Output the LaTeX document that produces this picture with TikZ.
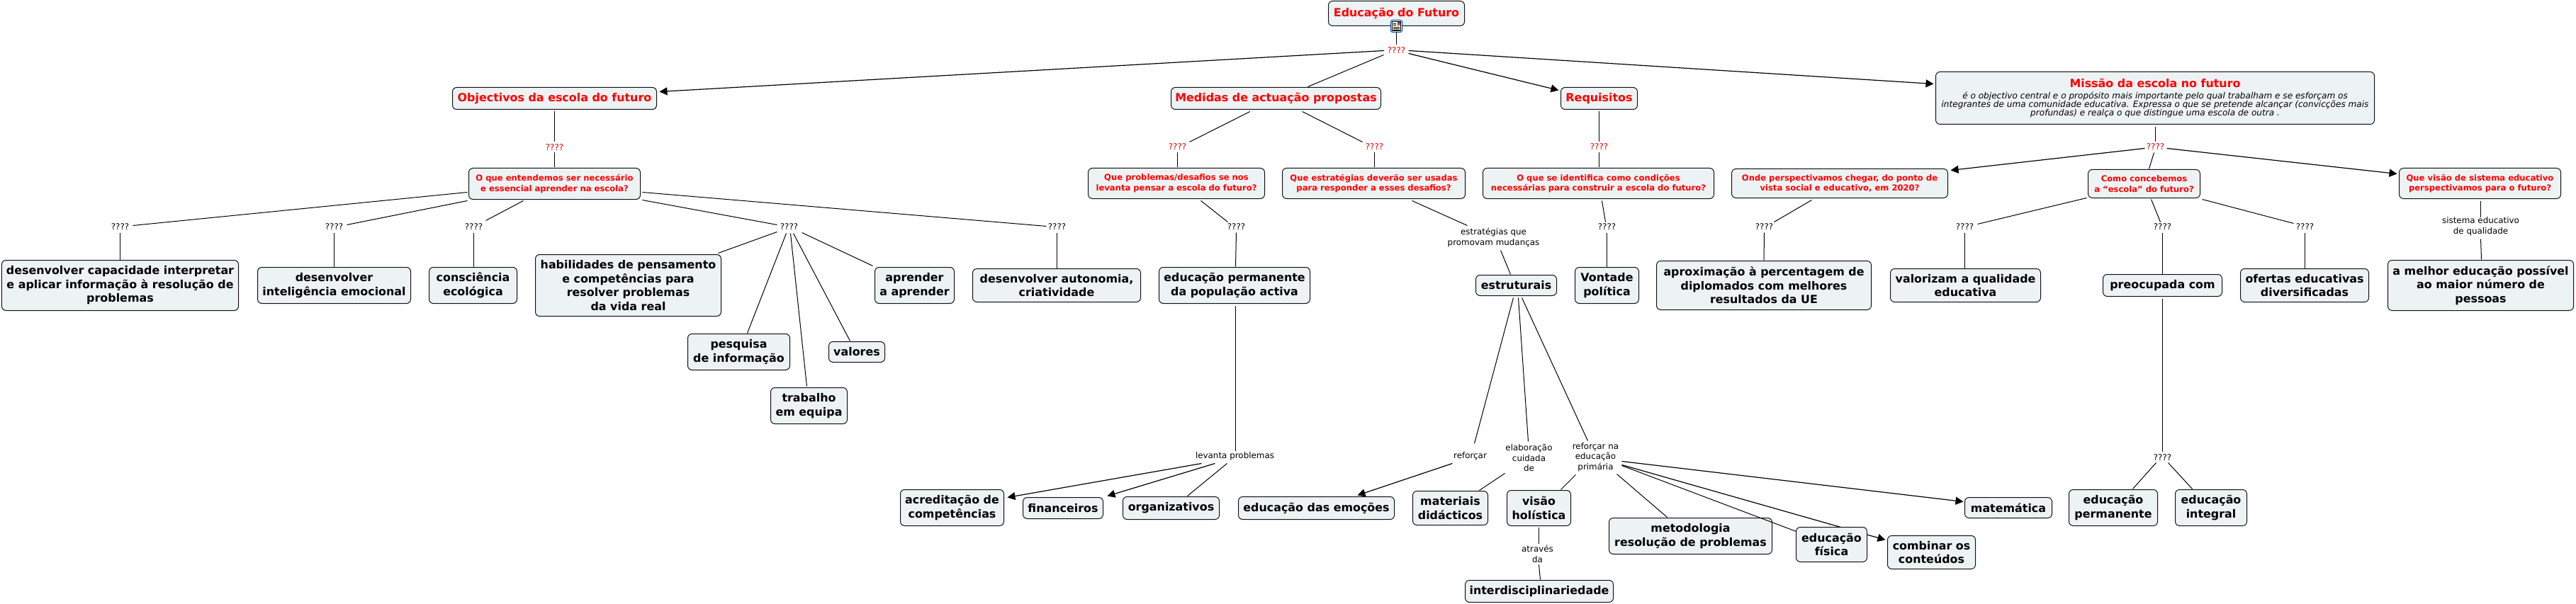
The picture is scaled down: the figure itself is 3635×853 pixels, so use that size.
\documentclass[tikz,border=0pt]{standalone}
\usepackage{fontspec}
\setmainfont{DejaVu Sans}
\usetikzlibrary{arrows.meta,backgrounds}
\definecolor{boxfill}{HTML}{EDF3F5}
\definecolor{boxline}{HTML}{101010}
\newcommand{\fA}{\fontsize{15.9}{19.5}\selectfont\bfseries}
\newcommand{\fT}{\fontsize{15.9}{19.5}\selectfont\bfseries}
\newcommand{\fQ}{\fontsize{11.6}{14.6}\selectfont\bfseries}
\newcommand{\fL}{\fontsize{11.9}{14.6}\selectfont}
\newcommand{\fI}{\fontsize{12.1}{14.6}\selectfont\mdseries\itshape\color{black}}
\tikzset{
  base/.style={draw=boxline,line width=1pt,fill=boxfill,rounded corners=6pt,inner sep=0pt,align=center},
  concept/.style={base,font=\fA,text=black},
  titlebox/.style={base,font=\fT,text=red},
  question/.style={base,font=\fQ,text=red},
  lab/.style={inner sep=0pt,align=center,font=\fL,text=black},
  redlab/.style={lab,text=red!85!black},
  link/.style={draw=black,line width=1pt},
  arrowlink/.style={link,line width=1.2pt,-{Triangle[length=11pt,width=11pt]}},
  dim/.style 2 args={minimum width=#1pt,minimum height=#2pt}
}
\begin{document}
\begin{tikzpicture}[x=1pt,y=-1pt]
\useasboundingbox (-0.5,-0.5) rectangle (3634.5,852.5);
% titles and questions
\node[titlebox,dim={192}{35}] (root) at (1970,18.5) {\raisebox{3pt}{Educação do Futuro}};
\node[titlebox,dim={288}{31}] (obj) at (782,138.5) {Objectivos da escola do futuro};
\node[titlebox,dim={296}{31}] (med) at (1800,138.5) {Medidas de actuação propostas};
\node[titlebox,dim={108}{31}] (req) at (2256,138.5) {Requisitos};
\node[base,dim={619}{74},text=red] (mis) at (3040.5,138) {\fT Missão da escola no futuro\\[3.5pt]\fI é o objectivo central e o propósito mais importante pelo qual trabalham e se esforçam os\\ \fI integrantes de uma comunidade educativa. Expressa o que se pretende alcançar (convicções mais\\ \fI profundas) e realça o que distingue uma escola de outra .};
\node[question,dim={242}{44}] (ent) at (782,259) {O que entendemos ser necessário\\ e essencial aprender na escola?};
\node[question,dim={249}{43}] (qp) at (1659.5,258.5) {Que problemas/desafios se nos\\levanta pensar a escola do futuro?};
\node[question,dim={258}{43}] (qe) at (1938,258.5) {Que estratégias deverão ser usadas\\para responder a esses desafios?};
\node[question,dim={326}{43}] (qi) at (2255,258.5) {O que se identifica como condições\\necessárias para construir a escola do futuro?};
\node[question,dim={305}{41}] (ond) at (2595.5,258.5) {Onde perspectivamos chegar, do ponto de\\vista social e educativo, em 2020?};
\node[question,dim={158}{40}] (com) at (3025,259) {Como concebemos\\a “escola” do futuro?};
\node[question,dim={228}{43}] (qv) at (3499,258.5) {Que visão de sistema educativo\\perspectivamos para o futuro?};
% concepts
\node[concept,dim={334}{71}] (dc) at (169,402.5) {desenvolver capacidade interpretar\\e aplicar informação à resolução de\\problemas};
\node[concept,dim={216}{51}] (di) at (471,402.5) {desenvolver\\inteligência emocional};
\node[concept,dim={124}{51}] (cons) at (667,402.5) {consciência\\ecológica};
\node[concept,dim={262}{87}] (hab) at (886,402.5) {habilidades de pensamento\\e competências para\\resolver problemas\\da vida real};
\node[concept,dim={144}{51}] (pes) at (1042,496.5) {pesquisa\\de informação};
\node[concept,dim={79}{29}] (val) at (1208.5,496.5) {valores};
\node[concept,dim={108}{51}] (tra) at (1141,572.5) {trabalho\\em equipa};
\node[concept,dim={112}{51}] (apr) at (1290,402.5) {aprender\\a aprender};
\node[concept,dim={237}{47}] (aut) at (1490.5,402.5) {desenvolver autonomia,\\criatividade};
\node[concept,dim={213}{51}] (epa) at (1741.5,402.5) {educação permanente\\da população activa};
\node[concept,dim={114}{29}] (est) at (2139,402.5) {estruturais};
\node[concept,dim={90}{51}] (von) at (2267,402.5) {Vontade\\política};
\node[concept,dim={303}{69}] (apx) at (2488.5,402.5) {aproximação à percentagem de\\diplomados com melhores\\resultados da UE};
\node[concept,dim={212}{47}] (vq) at (2773,402.5) {valorizam a qualidade\\educativa};
\node[concept,dim={168}{31}] (pre) at (3051,402.5) {preocupada com};
\node[concept,dim={181}{47}] (ofe) at (3251.5,402.5) {ofertas educativas\\diversificadas};
\node[concept,dim={262}{71}] (mel) at (3500,402.5) {a melhor educação possível\\ao maior número de\\pessoas};
\node[concept,dim={146}{51}] (acr) at (1343,716.5) {acreditação de\\competências};
\node[concept,dim={113}{30}] (fin) at (1499.5,717) {financeiros};
\node[concept,dim={136}{32}] (org) at (1652,717) {organizativos};
\node[concept,dim={220}{32}] (emo) at (1857,717) {educação das emoções};
\node[concept,dim={106}{48}] (mat) at (2046,717) {materiais\\didácticos};
\node[concept,dim={90}{50}] (vis) at (2171,717) {visão\\holística};
\node[concept,dim={230}{51}] (met) at (2385,756.5) {metodologia\\resolução de problemas};
\node[concept,dim={100}{49}] (fis) at (2584,768.5) {educação\\física};
\node[concept,dim={124}{47}] (cmb) at (2725,779.5) {combinar os\\conteúdos};
\node[concept,dim={123}{29}] (mtm) at (2833.5,716.5) {matemática};
\node[concept,dim={209}{31}] (int) at (2171.5,834.5) {interdisciplinariedade};
\node[concept,dim={125}{51}] (epe) at (2981.5,716.5) {educação\\permanente};
\node[concept,dim={101}{51}] (ein) at (3119.5,716.5) {educação\\integral};
% linking phrases
\node[redlab] (l0) at (1970,70.5) {????};
\node[redlab] (l1) at (782,207.5) {????};
\node[redlab] (l2) at (1661,207) {????};
\node[redlab] (l3) at (1939,207) {????};
\node[redlab] (l4) at (2256,207) {????};
\node[redlab] (l5) at (3041,207) {????};
\node[lab] (k1) at (169,320) {????};
\node[lab] (k2) at (471,320) {????};
\node[lab] (k3) at (668,320) {????};
\node[lab] (k4) at (1113,320) {????};
\node[lab] (k5) at (1491,320) {????};
\node[lab] (k6) at (1744,320) {????};
\node[lab] (k7) at (2267,320) {????};
\node[lab] (k8) at (2489,320) {????};
\node[lab] (k9) at (2772,320) {????};
\node[lab] (k10) at (3051,320) {????};
\node[lab] (k11) at (3252,320) {????};
\node[lab] (k12) at (3051,646) {????};
\node[lab] (les) at (2107,335) {estratégias que\\promovam mudanças};
\node[lab] (lsis) at (3500,319) {sistema educativo\\de qualidade};
\node[lab] (llev) at (1742,644) {levanta problemas};
\node[lab] (lref) at (2074,644) {reforçar};
\node[lab] (lela) at (2157,646) {elaboração\\cuidada\\de};
\node[lab] (lrna) at (2251,645) {reforçar na\\educação\\primária};
\node[lab] (latr) at (2169,782) {através\\da};
% document icon on the root concept
\node[draw=blue!60!cyan!70!black,line width=1pt,fill=white,rounded corners=2.5pt,minimum width=16pt,minimum height=17pt,inner sep=0pt] (ico) at (1970,36.5) {};
\fill[yellow!12] (1964,30) rectangle (1976,43);
\draw[black,line width=.8pt] (1964,30) rectangle (1976,43);
\fill[blue!50!gray] (1971,31) rectangle (1975,36);
\fill[orange!70!red] (1972.5,33) rectangle (1975,36);
\draw[black,line width=.7pt] (1965.5,33) -- (1969.5,33);
\draw[black,line width=.7pt] (1965.5,35) -- (1969.5,35);
\draw[black,line width=.7pt] (1965.5,37.5) -- (1974.5,37.5);
\draw[black,line width=.7pt] (1965.5,39.5) -- (1974.5,39.5);
\draw[black,line width=.7pt] (1965.5,41.5) -- (1974.5,41.5);
% connectors
\begin{scope}[on background layer]
\draw[link] ([shift={(0,8)}]ico.center) -- ([shift={(0,-7.5)}]l0.center);
\draw[arrowlink] ([shift={(-17.5,0.5)}]l0.center) -- ([shift={(148,-9.5)}]obj.center);
\draw[link] ([shift={(-18,6.5)}]l0.center) -- ([shift={(45,-16.5)}]med.center);
\draw[arrowlink] ([shift={(17,4.5)}]l0.center) -- ([shift={(-57,-11.5)}]req.center);
\draw[arrowlink] ([shift={(17,0.5)}]l0.center) -- ([shift={(-312.5,-20)}]mis.center);
\draw[link] ([shift={(0,18.5)}]obj.center) -- ([shift={(0,-7.5)}]l1.center);
\draw[link] ([shift={(0,7.5)}]l1.center) -- ([shift={(0,-23)}]ent.center);
\draw[link] ([shift={(-123,12)}]ent.center) -- ([shift={(18,-2)}]k1.center);
\draw[link] ([shift={(-123,24)}]ent.center) -- ([shift={(18,-3)}]k2.center);
\draw[link] ([shift={(-44,24)}]ent.center) -- ([shift={(17,-9)}]k3.center);
\draw[link] ([shift={(124,23)}]ent.center) -- ([shift={(-17,-3)}]k4.center);
\draw[link] ([shift={(124,12)}]ent.center) -- ([shift={(-15,-1)}]k5.center);
\draw[link] ([shift={(0,8)}]k1.center) -- ([shift={(0,-36.5)}]dc.center);
\draw[link] ([shift={(0,8)}]k2.center) -- ([shift={(0,-26.5)}]di.center);
\draw[link] ([shift={(0,8)}]k3.center) -- ([shift={(1,-26.5)}]cons.center);
\draw[link] ([shift={(-17,7)}]k4.center) -- ([shift={(127,-45.5)}]hab.center);
\draw[link] ([shift={(-4,9)}]k4.center) -- ([shift={(12,-26.5)}]pes.center);
\draw[link] ([shift={(2,9)}]k4.center) -- ([shift={(-3,-27.5)}]tra.center);
\draw[link] ([shift={(6,9)}]k4.center) -- ([shift={(-9.5,-15.5)}]val.center);
\draw[link] ([shift={(18,8)}]k4.center) -- ([shift={(-59,-27.5)}]apr.center);
\draw[link] ([shift={(0,8)}]k5.center) -- ([shift={(0.5,-24.5)}]aut.center);
\draw[link] ([shift={(-36.5,18.5)}]med.center) -- ([shift={(17,-7)}]l2.center);
\draw[link] ([shift={(37,18.5)}]med.center) -- ([shift={(-17,-7)}]l3.center);
\draw[link] ([shift={(0,8)}]l2.center) -- ([shift={(1.5,-22.5)}]qp.center);
\draw[link] ([shift={(0,8)}]l3.center) -- ([shift={(1,-22.5)}]qe.center);
\draw[link] ([shift={(0,18.5)}]req.center) -- ([shift={(0,-7)}]l4.center);
\draw[link] ([shift={(0,8)}]l4.center) -- ([shift={(1,-22.5)}]qi.center);
\draw[link] ([shift={(34.5,24.5)}]qp.center) -- ([shift={(-12,-7)}]k6.center);
\draw[link] ([shift={(0,8)}]k6.center) -- ([shift={(1.5,-26.5)}]epa.center);
\draw[link] ([shift={(54,24.5)}]qe.center) -- ([shift={(-37,-17)}]les.center);
\draw[link] ([shift={(10,18)}]les.center) -- ([shift={(-8,-15.5)}]est.center);
\draw[link] ([shift={(5,24.5)}]qi.center) -- ([shift={(-2,-7)}]k7.center);
\draw[link] ([shift={(0,8)}]k7.center) -- ([shift={(0,-26.5)}]von.center);
\draw[link] ([shift={(-39.5,23.5)}]ond.center) -- ([shift={(14,-7)}]k8.center);
\draw[link] ([shift={(0,8)}]k8.center) -- ([shift={(0,-35.5)}]apx.center);
\draw[link] ([shift={(0.5,41)}]mis.center) -- ([shift={(0,-7)}]l5.center);
\draw[arrowlink] ([shift={(-15,2)}]l5.center) -- ([shift={(156.5,-18.5)}]ond.center);
\draw[link] ([shift={(-2,8)}]l5.center) -- ([shift={(7,-21)}]com.center);
\draw[arrowlink] ([shift={(16,2)}]l5.center) -- ([shift={(-117,-13.5)}]qv.center);
\draw[link] ([shift={(-81,20)}]com.center) -- ([shift={(18,-4)}]k9.center);
\draw[link] ([shift={(10,22)}]com.center) -- ([shift={(-3,-7)}]k10.center);
\draw[link] ([shift={(82,22)}]com.center) -- ([shift={(-16,-5)}]k11.center);
\draw[link] ([shift={(0,8)}]k9.center) -- ([shift={(-1,-24.5)}]vq.center);
\draw[link] ([shift={(0,8)}]k10.center) -- ([shift={(0,-16.5)}]pre.center);
\draw[link] ([shift={(0,8)}]k11.center) -- ([shift={(0.5,-24.5)}]ofe.center);
\draw[link] ([shift={(1,24.5)}]qv.center) -- ([shift={(0,-13)}]lsis.center);
\draw[link] ([shift={(0,18)}]lsis.center) -- ([shift={(1,-36.5)}]mel.center);
\draw[link] ([shift={(0,18.5)}]pre.center) -- ([shift={(0,-9)}]k12.center);
\draw[link] ([shift={(-9,7)}]k12.center) -- ([shift={(27.5,-26.5)}]epe.center);
\draw[link] ([shift={(8,7)}]k12.center) -- ([shift={(-26.5,-26.5)}]ein.center);
\draw[link] ([shift={(1.5,28.5)}]epa.center) -- ([shift={(1,-8)}]llev.center);
\draw[arrowlink] ([shift={(-47,10)}]llev.center) -- ([shift={(78,-14.5)}]acr.center);
\draw[arrowlink] ([shift={(-28,10)}]llev.center) -- ([shift={(62.5,-17)}]fin.center);
\draw[link] ([shift={(-11,10)}]llev.center) -- ([shift={(23,-17)}]org.center);
\draw[link] ([shift={(-4,17.5)}]est.center) -- ([shift={(6,-18)}]lref.center);
\draw[link] ([shift={(3,17.5)}]est.center) -- ([shift={(-1,-23)}]lela.center);
\draw[link] ([shift={(8,17.5)}]est.center) -- ([shift={(-11,-23)}]lrna.center);
\draw[arrowlink] ([shift={(-25,10)}]lref.center) -- ([shift={(58,-18)}]emo.center);
\draw[link] ([shift={(-34,22)}]lela.center) -- ([shift={(41,-25)}]mat.center);
\draw[link] ([shift={(-28,25)}]lrna.center) -- ([shift={(31,-26)}]vis.center);
\draw[link] ([shift={(30,24)}]lrna.center) -- ([shift={(-33,-26.5)}]met.center);
\draw[arrowlink] ([shift={(37,11)}]lrna.center) -- ([shift={(-65,-17.5)}]cmb.center);
\draw[arrowlink] ([shift={(37,6)}]lrna.center) -- ([shift={(-63.5,-8.5)}]mtm.center);
\draw[link] ([shift={(0,27)}]vis.center) -- ([shift={(2,-15)}]latr.center);
\draw[link] ([shift={(2,15)}]latr.center) -- ([shift={(1.5,-16.5)}]int.center);
\end{scope}
\draw[link] ([shift={(37,12)}]lrna.center) -- ([shift={(-50,-18.5)}]fis.center);
\end{tikzpicture}
\end{document}
